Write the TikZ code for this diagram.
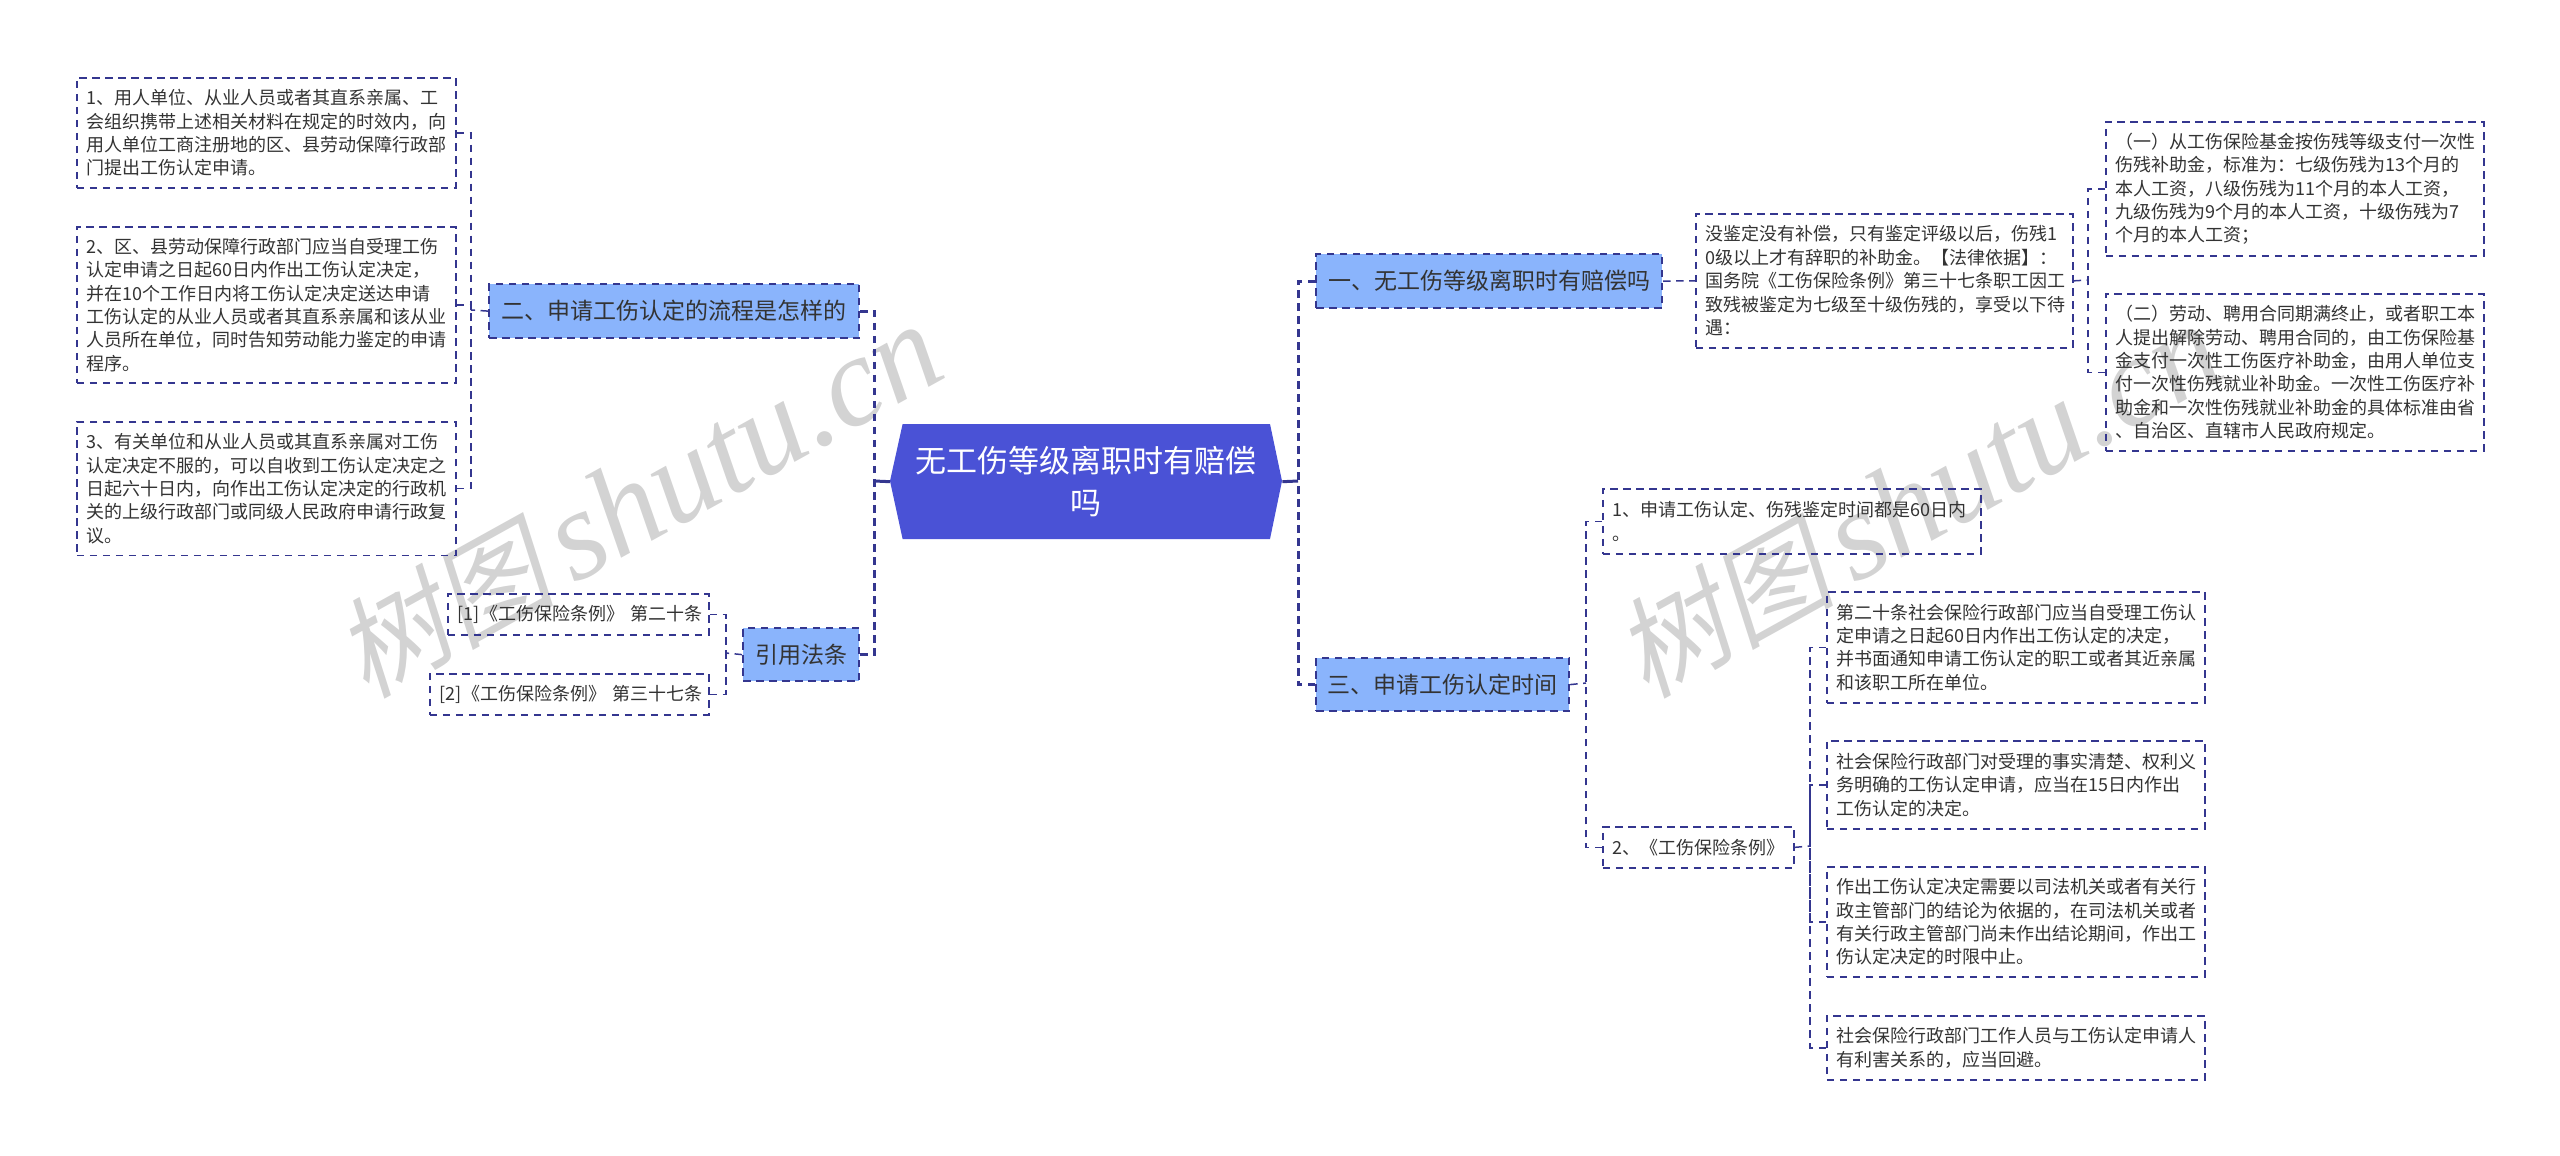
\documentclass[tikz,border=0pt]{standalone}
\usepackage{fontspec}
\setmainfont{Noto Sans CJK SC}
\newfontfamily\wmcjk[FakeSlant=0.2]{Noto Sans CJK SC}
\newfontfamily\wmlat{Liberation Serif}[ItalicFont=* Italic]
\definecolor{navy}{HTML}{34368F}
\definecolor{rootblue}{HTML}{4A52D6}
\definecolor{midblue}{HTML}{8AB4FC}
\definecolor{ink}{HTML}{333333}
\definecolor{mark}{HTML}{D3D3D3}
\tikzset{
  dashline/.style={dash pattern=on 7.5pt off 5.5pt},
  boxbase/.style={rectangle,anchor=north west,inner xsep=10pt,inner ysep=0pt,align=left},
  leaf/.style={boxbase,draw=navy,line width=1.7pt,dashline,text=ink,font=\fontsize{18}{23.4}\selectfont},
  topic/.style={boxbase,draw=navy,line width=2.2pt,dashline,fill=midblue,text=ink,font=\fontsize{23}{30}\selectfont},
  conn/.style={draw=navy,line width=1.5pt,dashline},
  trunk/.style={draw=navy,line width=3pt,dashline},
  stem/.style={draw=navy,line width=3pt},
  wm/.style={text=mark,rotate=29,anchor=base west,inner sep=0pt}
}
\newcommand{\lbox}[7]{\node[leaf,minimum width=#4pt,minimum height=#5pt,text width=#6pt] (#1) at (#2,#3) {#7};}
\newcommand{\wmtext}{\fontsize{110}{110}\selectfont\wmcjk 树图\hspace{18pt}\fontsize{128}{128}\selectfont\wmlat\itshape shutu.cn}
\begin{document}
\begin{tikzpicture}[x=1pt,y=-1pt]
\useasboundingbox (0,0) rectangle (2560,1156);
% watermarks
\node[wm] (wmA) at (366,700) {\wmtext};
\node[wm] (wmB) at (1646,700) {\wmtext};
% root
\fill[rootblue] (890,481) -- (902.6,424) -- (1270,424) -- (1282,481) -- (1270,539) -- (902.6,539) -- cycle;
\node[inner sep=0pt,align=center,text=white,font=\fontsize{31}{41.6}\selectfont,minimum width=392pt,minimum height=115pt,anchor=north west] (root) at (890,424) {无工伤等级离职时有赔偿\\吗};
% topics
\node[topic,minimum width=370pt,minimum height=54pt] (n2) at (488,283) {二、申请工伤认定的流程是怎样的};
\node[topic,minimum width=116pt,minimum height=53pt] (n4) at (742,627) {引用法条};
\node[topic,minimum width=346pt,minimum height=54pt] (n1) at (1315,253) {一、无工伤等级离职时有赔偿吗};
\node[topic,minimum width=253pt,minimum height=53pt] (n3) at (1315,657) {三、申请工伤认定时间};
% left leaves
\lbox{a1}{76}{77}{379}{110}{359}{1、用人单位、从业人员或者其直系亲属、工\\会组织携带上述相关材料在规定的时效内，向\\用人单位工商注册地的区、县劳动保障行政部\\门提出工伤认定申请。}
\lbox{a2}{76}{226}{379}{156}{359}{2、区、县劳动保障行政部门应当自受理工伤\\认定申请之日起60日内作出工伤认定决定，\\并在10个工作日内将工伤认定决定送达申请\\工伤认定的从业人员或者其直系亲属和该从业\\人员所在单位，同时告知劳动能力鉴定的申请\\程序。}
\lbox{a3}{76}{421}{379}{133.5}{359}{3、有关单位和从业人员或其直系亲属对工伤\\认定决定不服的，可以自收到工伤认定决定之\\日起六十日内，向作出工伤认定决定的行政机\\关的上级行政部门或同级人民政府申请行政复\\议。}
\lbox{c1}{447}{593}{261}{41}{241}{\mbox{[1]《工伤保险条例》 第二十条}}
\lbox{c2}{429}{673}{279}{41}{259}{\mbox{[2]《工伤保险条例》 第三十七条}}
% right leaves
\lbox{b0}{1695}{213}{377}{134}{357}{没鉴定没有补偿，只有鉴定评级以后，伤残1\\0级以上才有辞职的补助金。【法律依据】：\\国务院《工伤保险条例》第三十七条职工因工\\致残被鉴定为七级至十级伤残的，享受以下待\\遇：}
\lbox{b1}{2105}{121}{378}{134}{358}{（一）从工伤保险基金按伤残等级支付一次性\\伤残补助金，标准为：七级伤残为13个月的\\本人工资，八级伤残为11个月的本人工资，\\九级伤残为9个月的本人工资，十级伤残为7\\个月的本人工资；}
\lbox{b2}{2105}{293}{378}{157}{358}{（二）劳动、聘用合同期满终止，或者职工本\\人提出解除劳动、聘用合同的，由工伤保险基\\金支付一次性工伤医疗补助金，由用人单位支\\付一次性伤残就业补助金。一次性工伤医疗补\\助金和一次性伤残就业补助金的具体标准由省\\、自治区、直辖市人民政府规定。}
\lbox{d1}{1602}{488}{378}{65}{358}{1、申请工伤认定、伤残鉴定时间都是60日内\\。}
\lbox{d2}{1602}{826}{191}{41}{171}{2、《工伤保险条例》}
\lbox{e1}{1826}{591}{378}{111}{358}{第二十条社会保险行政部门应当自受理工伤认\\定申请之日起60日内作出工伤认定的决定，\\并书面通知申请工伤认定的职工或者其近亲属\\和该职工所在单位。}
\lbox{e2}{1826}{740}{378}{88}{358}{社会保险行政部门对受理的事实清楚、权利义\\务明确的工伤认定申请，应当在15日内作出\\工伤认定的决定。}
\lbox{e3}{1826}{866}{378}{110}{358}{作出工伤认定决定需要以司法机关或者有关行\\政主管部门的结论为依据的，在司法机关或者\\有关行政主管部门尚未作出结论期间，作出工\\伤认定决定的时限中止。}
\lbox{e4}{1826}{1015}{378}{64}{358}{社会保险行政部门工作人员与工伤认定申请人\\有利害关系的，应当回避。}
% junctions
\coordinate (tL) at (874.5,481);
\coordinate (tR) at (1298,481);
\coordinate (jA) at (471,310);
\coordinate (jC) at (726,653);
\coordinate (jB) at (2088,280);
\coordinate (jD) at (1586,683);
\coordinate (jE) at (1810,846);
% connectors
\draw[stem] (root.west) -- (tL);
\draw[stem] (root.east) -- (tR);
\draw[trunk] (n2.east) -| (tL);
\draw[trunk] (n4.east) -| (tL);
\draw[trunk] (n1.west) -| (tR);
\draw[trunk] (n3.west) -| (tR);
\draw[conn] (n2.west) -- (jA);
\draw[conn] (a1.east) -| (jA);
\draw[conn] (a2.east) -| (jA);
\draw[conn] (a3.east) -| (jA);
\draw[conn] (n4.west) -- (jC);
\draw[conn] (c1.east) -| (jC);
\draw[conn] (c2.east) -| (jC);
\draw[conn] (n1.east) -- (b0.west);
\draw[conn] (b0.east) -- (jB);
\draw[conn] (b1.west) -| (jB);
\draw[conn] (b2.west) -| (jB);
\draw[conn] (n3.east) -- (jD);
\draw[conn] (d1.west) -| (jD);
\draw[conn] (d2.west) -| (jD);
\draw[conn] (d2.east) -- (jE);
\draw[conn] (e1.west) -| (jE);
\draw[conn] (e2.west) -| (jE);
\draw[conn] (e3.west) -| (jE);
\draw[conn] (e4.west) -| (jE);
\end{tikzpicture}
\end{document}
